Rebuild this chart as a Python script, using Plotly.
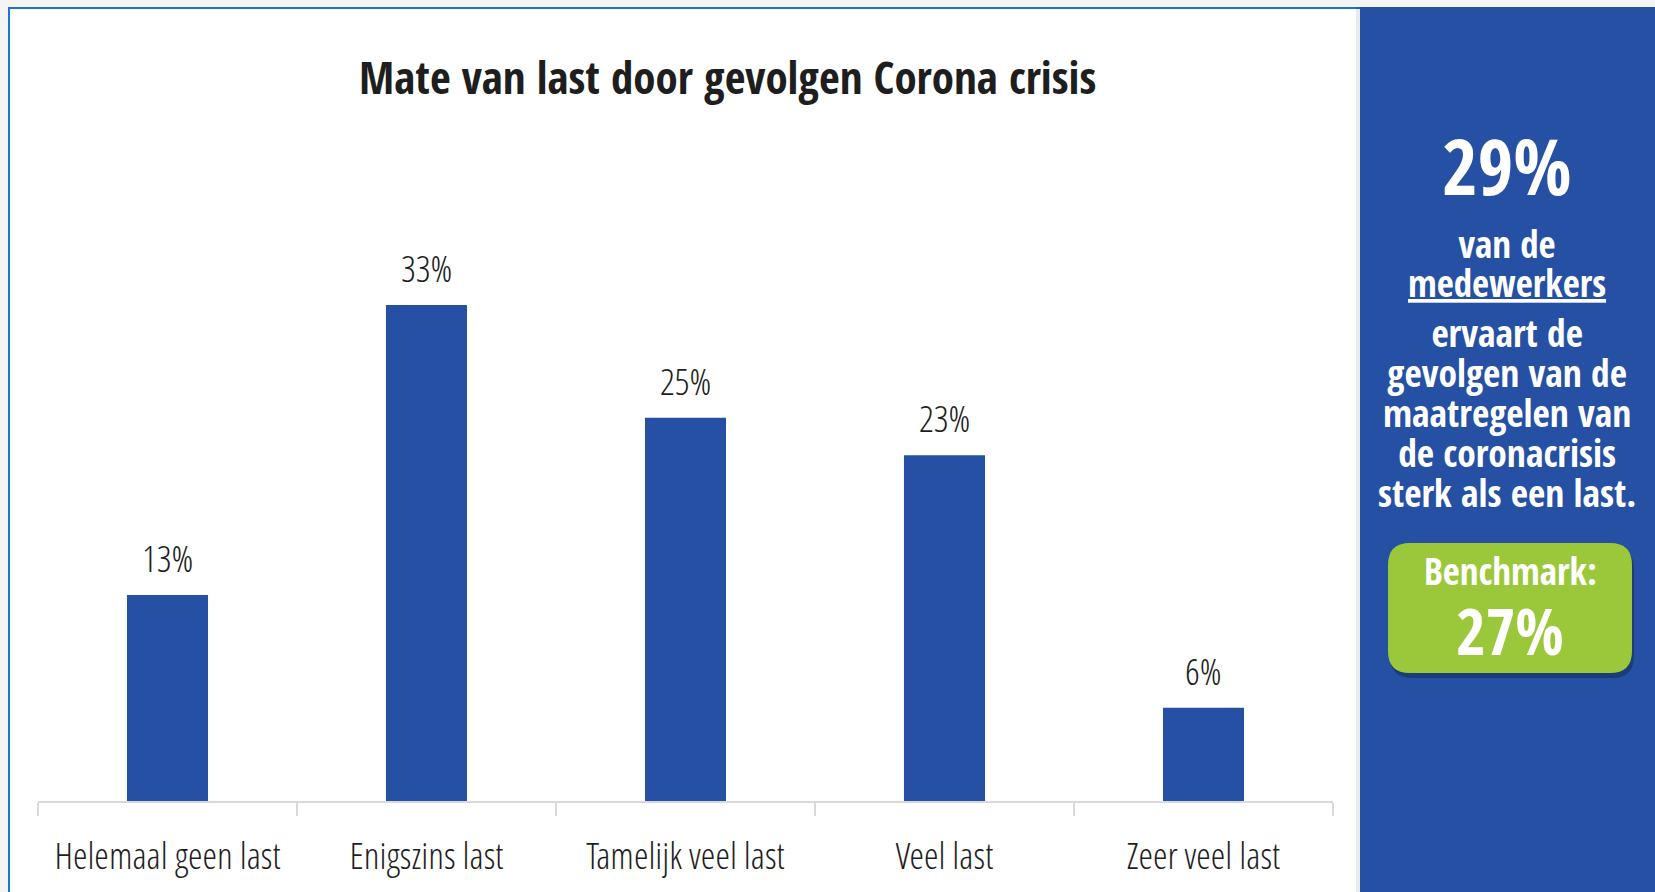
import plotly.graph_objects as go

W, H = 1655, 892

# ---------------- data ----------------
categories = ["Helemaal geen last", "Enigszins last", "Tamelijk veel last", "Veel last", "Zeer veel last"]
values = [13.7, 33.0, 25.5, 23.0, 6.2]
value_labels = ["13%", "33%", "25%", "23%", "6%"]
title_text = "Mate van last door gevolgen Corona crisis"
headline_value = "29%"
panel_block1 = ["van de", "<u>medewerkers</u>"]
panel_block2 = ["ervaart de", "gevolgen van de", "maatregelen van", "de coronacrisis", "sterk als een last."]
benchmark_label = "Benchmark:"
benchmark_value = "27%"

# ---------------- style ----------------
BLUE = "#2550A3"
GREEN = "#9BC83B"
BORDER = "#1B75C9"
GRID = "#D9D9D9"
TXT = "#1E1E1E"
COND = "Open Sans Condensed, Roboto Condensed, Liberation Sans Narrow, DejaVu Sans Condensed, Open Sans, sans-serif"
LIGHT = "Open Sans Condensed Light, Open Sans, Roboto Condensed, sans-serif"


def px(x):
    return x / W


def py(y):
    return 1 - y / H


fig = go.Figure()
fig.add_trace(go.Bar(
    x=categories, y=values, marker=dict(color=BLUE, line=dict(width=0)),
    hoverinfo="skip", showlegend=False,
))

# plot area: x 38..1333 px, y 0..801 px
fig.update_layout(
    width=W, height=H, autosize=False,
    margin=dict(l=0, r=0, t=0, b=0),
    paper_bgcolor="#F4F4F4", plot_bgcolor="rgba(0,0,0,0)",
    bargap=0.687,
    xaxis=dict(domain=[px(38), px(1333)], showline=True, linecolor=GRID, linewidth=2,
               ticks="outside", tickson="boundaries", ticklen=13, tickcolor=GRID, tickwidth=2,
               showgrid=False, tickangle=0, ticklabelstandoff=22,
               tickfont=dict(family=LIGHT, size=37, color=TXT, weight=300)),
    yaxis=dict(domain=[py(801), 1], range=[0, 801 / 15.03], visible=False, showgrid=False),
)

shapes = []
# white card with blue border
shapes.append(dict(type="rect", xref="paper", yref="paper", x0=px(9), x1=px(1400), y0=py(900), y1=py(8),
                   fillcolor="white", line=dict(color=BORDER, width=2), layer="below"))
# panel shadow
shapes.append(dict(type="rect", xref="paper", yref="paper", x0=px(1356), x1=px(1360), y0=py(892), y1=py(7),
                   fillcolor="rgba(0,0,0,0.08)", line=dict(width=0), layer="above"))
# right blue panel
shapes.append(dict(type="rect", xref="paper", yref="paper", x0=px(1360), x1=px(1655), y0=py(892), y1=py(7),
                   fillcolor=BLUE, line=dict(width=0), layer="above"))


def rounded(x0, y0, x1, y1, r):
    p = [f"M {px(x0 + r)},{py(y0)}", f"L {px(x1 - r)},{py(y0)}", f"Q {px(x1)},{py(y0)} {px(x1)},{py(y0 + r)}",
         f"L {px(x1)},{py(y1 - r)}", f"Q {px(x1)},{py(y1)} {px(x1 - r)},{py(y1)}",
         f"L {px(x0 + r)},{py(y1)}", f"Q {px(x0)},{py(y1)} {px(x0)},{py(y1 - r)}",
         f"L {px(x0)},{py(y0 + r)}", f"Q {px(x0)},{py(y0)} {px(x0 + r)},{py(y0)}", "Z"]
    return " ".join(p)


# benchmark box shadow + box
shapes.append(dict(type="path", xref="paper", yref="paper", path=rounded(1390, 547, 1634, 678, 22),
                   fillcolor="rgba(0,0,0,0.25)", line=dict(width=0), layer="above"))
shapes.append(dict(type="path", xref="paper", yref="paper", path=rounded(1388, 543, 1632, 673, 22),
                   fillcolor=GREEN, line=dict(width=0), layer="above"))
fig.update_layout(shapes=shapes)

ann = []
# bar value labels
for c, v, t in zip(categories, values, value_labels):
    ann.append(dict(x=c, y=v, xref="x", yref="y", text=t, showarrow=False, yanchor="bottom", yshift=10,
                    font=dict(family=LIGHT, size=37, color=TXT, weight=300)))
# title
ann.append(dict(x=px(727), y=py(76), xref="paper", yref="paper", text=f"<b>{title_text}</b>", showarrow=False,
                xanchor="center", yanchor="middle", font=dict(family=COND, size=45, color=TXT)))
# panel texts
cx = px(1507)
ann.append(dict(x=cx, y=py(166), xref="paper", yref="paper", text=f"<b>{headline_value}</b>", showarrow=False,
                xanchor="center", yanchor="middle", font=dict(family=COND, size=77, color="white")))


def block(lines, glyph):
    return "<br>".join(f"<span style='font-size:{glyph}px'><b>{l}</b></span>" for l in lines)


# block 1: two lines, spacing ~39px
ann.append(dict(x=cx, y=py(263), xref="paper", yref="paper", text=block(panel_block1, 37), showarrow=False,
                xanchor="center", yanchor="middle", font=dict(family=COND, size=30, color="white")))
# block 2: five lines, spacing 40px
ann.append(dict(x=cx, y=py(412), xref="paper", yref="paper", text=block(panel_block2, 37.5), showarrow=False,
                xanchor="center", yanchor="middle", font=dict(family=COND, size=30.8, color="white")))
ann.append(dict(x=px(1510), y=py(570), xref="paper", yref="paper", text=f"<b>{benchmark_label}</b>", showarrow=False,
                xanchor="center", yanchor="middle", font=dict(family=COND, size=37, color="white")))
ann.append(dict(x=px(1510), y=py(630), xref="paper", yref="paper", text=f"<b>{benchmark_value}</b>", showarrow=False,
                xanchor="center", yanchor="middle", font=dict(family=COND, size=64, color="white")))
fig.update_layout(annotations=ann)

post = """
document.body.style.margin='0';
document.body.style.overflow='hidden';
var st=document.createElement('style');
st.textContent='svg text{font-stretch:condensed;}';
document.head.appendChild(st);
"""
fig.write_html("out.html", post_script=post, config={"displayModeBar": False})
